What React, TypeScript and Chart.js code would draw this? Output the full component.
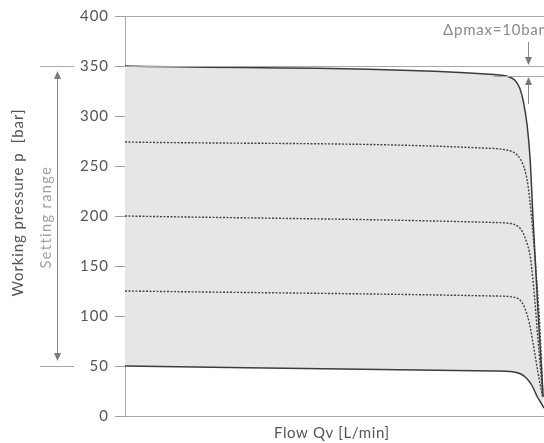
import React, { useEffect, useRef } from "react";
import { Chart, registerables } from "chart.js";

Chart.register(...registerables);

// Flow (relative % of max) and pressure [bar] for each characteristic curve
const curve350X = [0, 88, 91, 93, 94.2, 95, 96, 96.7, 97.4, 98.5, 99.8];
const curve350Y = [350, 341.5, 340, 336, 328, 316, 290, 256, 196, 110, 19];
const curve275X = [0, 85, 91, 93, 94.5, 95.5, 96.2, 97, 98, 99, 99.7];
const curve275Y = [274, 268, 266, 263, 256, 245, 230, 200, 150, 90, 25];
const curve200X = [0, 88, 92, 94, 95, 96, 96.7, 97.5, 98.5, 99.7];
const curve200Y = [200, 193.5, 192.5, 189, 183, 172, 160, 130, 80, 20];
const curve125X = [0, 88, 92.5, 94.5, 95.5, 96.5, 97.5, 98.5, 99.7];
const curve125Y = [125, 120, 119, 115, 107, 93, 70, 45, 18];
const curve50X = [0, 88, 92, 94.5, 96, 97.2, 98.3, 99.3, 100];
const curve50Y = [50, 45, 44.5, 42, 37, 30, 20, 13, 8];

const yTicks = [0, 50, 100, 150, 200, 250, 300, 350, 400];
const settingRange = [50, 350];
const deltaP = [350, 340];

const xTitle = "Flow Qv [L/min]";
const yTitle = "Working pressure p  [bar]";
const rangeLabel = "Setting range";
const deltaLabel = "Δpmax=10bar";

const pts = (xs: number[], ys: number[]) => xs.map((x, i) => ({ x, y: ys[i] }));

const FONT = "Lato, 'DejaVu Sans', sans-serif";

function arrowHead(ctx: CanvasRenderingContext2D, x: number, y: number, dir: number) {
  // dir: 1 = pointing down, -1 = pointing up
  ctx.beginPath();
  ctx.moveTo(x, y);
  ctx.lineTo(x - 3.5, y - dir * 8);
  ctx.lineTo(x + 3.5, y - dir * 8);
  ctx.closePath();
  ctx.fill();
}

// draw text stretched (via slight letter spacing) to a target width
function wideText(ctx: any, text: string, x: number, y: number, size: number, width: number, align: string) {
  ctx.font = `${size}px ${FONT}`;
  ctx.letterSpacing = "0px";
  const w = ctx.measureText(text).width;
  const n = Array.from(text).length;
  const ls = n > 1 ? Math.max(0, (width - w) / (n - 1)) : 0;
  ctx.letterSpacing = `${ls}px`;
  ctx.textAlign = "left";
  ctx.textBaseline = "middle";
  const tw = w + ls * (n - 1);
  let left = x;
  if (align === "center") left = x - tw / 2;
  if (align === "right") left = x - tw;
  ctx.fillText(text, left, y);
  ctx.letterSpacing = "0px";
}

const annotations = {
  id: "annotations",
  afterDraw(chart: any) {
    const { ctx, chartArea, scales } = chart;
    const ys = scales.y;
    const xs = scales.x;
    ctx.save();
    ctx.strokeStyle = "#a8a8a8";
    ctx.lineWidth = 1;
    // top border at 400
    const yTop = Math.round(ys.getPixelForValue(400)) + 0.5;
    ctx.beginPath();
    ctx.moveTo(chartArea.left, yTop);
    ctx.lineTo(chartArea.right, yTop);
    ctx.stroke();
    // reference lines at 350 and 340 (delta p)
    const y350 = ys.getPixelForValue(deltaP[0]);
    const y340 = ys.getPixelForValue(deltaP[1]);
    ctx.beginPath();
    ctx.moveTo(chartArea.left, Math.round(y350) + 0.5);
    ctx.lineTo(chartArea.right, Math.round(y350) + 0.5);
    ctx.moveTo(xs.getPixelForValue(88), Math.round(y340) + 0.5);
    ctx.lineTo(chartArea.right, Math.round(y340) + 0.5);
    ctx.stroke();

    // setting range extension lines
    const yHi = ys.getPixelForValue(settingRange[1]);
    const yLo = ys.getPixelForValue(settingRange[0]);
    ctx.beginPath();
    ctx.moveTo(40, Math.round(yHi) + 0.5);
    ctx.lineTo(74, Math.round(yHi) + 0.5);
    ctx.moveTo(40, Math.round(yLo) + 0.5);
    ctx.lineTo(74, Math.round(yLo) + 0.5);
    ctx.stroke();
    // setting range arrow
    ctx.strokeStyle = "#8a8a8a";
    ctx.fillStyle = "#7a7a7a";
    const ax = 57.5;
    ctx.beginPath();
    ctx.moveTo(ax, yHi + 8);
    ctx.lineTo(ax, yLo - 8);
    ctx.stroke();
    arrowHead(ctx, ax, yHi + 5, -1);
    arrowHead(ctx, ax, yLo - 5, 1);

    // delta p arrows
    const dx = 528.5;
    ctx.beginPath();
    ctx.moveTo(dx, 42);
    ctx.lineTo(dx, y350 - 6);
    ctx.moveTo(dx, y340 + 6);
    ctx.lineTo(dx, 104);
    ctx.stroke();
    arrowHead(ctx, dx, y350 - 1, 1);
    arrowHead(ctx, dx, y340 + 1, -1);

    // y tick labels
    ctx.fillStyle = "#555";
    ys.ticks.forEach((t: any) => {
      const label = String(t.value);
      const py = ys.getPixelForValue(t.value);
      const w = label.length === 1 ? 9 : label.length === 2 ? 18.5 : 28;
      wideText(ctx, label, 108, py, 15, w, "right");
    });

    // titles
    ctx.fillStyle = "#555";
    wideText(ctx, xTitle, (chartArea.left + chartArea.right) / 2 - 3, 433, 15, 115, "center");

    ctx.save();
    ctx.translate(18, 203);
    ctx.rotate(-Math.PI / 2);
    wideText(ctx, yTitle, 0, 0, 15, 187, "center");
    ctx.restore();

    ctx.save();
    ctx.fillStyle = "#a0a0a0";
    ctx.translate(46, 218);
    ctx.rotate(-Math.PI / 2);
    wideText(ctx, rangeLabel, 0, 0, 14.5, 101, "center");
    ctx.restore();

    ctx.fillStyle = "#8a8a8a";
    wideText(ctx, deltaLabel, 544, 30, 15, 101, "right");
    ctx.restore();
  },
};

export default function App() {
  const ref = useRef<HTMLCanvasElement>(null);
  useEffect(() => {
    if (!ref.current) return;
    const solid = { borderColor: "#3c3c3c", borderWidth: 1.5, pointRadius: 0, cubicInterpolationMode: "monotone" as const };
    const dotted = { borderColor: "#444", borderWidth: 1.4, borderDash: [2, 1.5], pointRadius: 0, cubicInterpolationMode: "monotone" as const, fill: false };
    const chart = new Chart(ref.current, {
      type: "line",
      data: {
        datasets: [
          { ...solid, data: pts(curve350X, curve350Y), fill: 4, backgroundColor: "#e6e6e6" },
          { ...dotted, data: pts(curve275X, curve275Y) },
          { ...dotted, data: pts(curve200X, curve200Y) },
          { ...dotted, data: pts(curve125X, curve125Y) },
          { ...solid, data: pts(curve50X, curve50Y), fill: false },
        ] as any,
      },
      options: {
        animation: false,
        responsive: true,
        maintainAspectRatio: false,
        layout: { padding: { top: 16, left: 0, right: 0, bottom: 0 } },
        plugins: {
          legend: { display: false },
          tooltip: { enabled: false },
          filler: { drawTime: "beforeDatasetsDraw" },
        } as any,
        scales: {
          x: {
            type: "linear",
            min: 0,
            max: 100,
            ticks: { display: false },
            grid: { display: false, drawTicks: false },
            border: { display: true, color: "#a8a8a8", width: 1 },
            afterFit: (s: any) => { s.height = 27; },
          },
          y: {
            min: 0,
            max: 400,
            afterBuildTicks: (s: any) => { s.ticks = yTicks.map((v) => ({ value: v })); },
            ticks: { display: false },
            grid: { drawOnChartArea: false, tickLength: 10, tickColor: "#a0a0a0" },
            border: { display: true, color: "#a8a8a8", width: 1 },
            afterFit: (s: any) => { s.width = 125; },
          },
        },
      },
      plugins: [annotations],
    });
    return () => chart.destroy();
  }, []);
  return (
    <div style={{ position: "fixed", left: 0, top: 0, width: 544, height: 443, background: "#fff" }}>
      <canvas ref={ref} />
    </div>
  );
}
